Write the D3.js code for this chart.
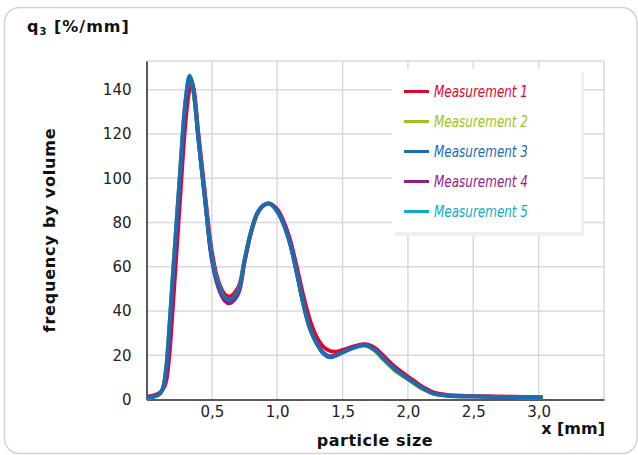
<!DOCTYPE html>
<html>
<head>
<meta charset="utf-8">
<script src="https://cdn.jsdelivr.net/npm/d3@7"></script>
<style>
  body { margin: 0; background: #fff; }
  svg { display: block; font-family: "DejaVu Sans", Verdana, sans-serif; }
</style>
</head>
<body>
<div id="chart"></div>
<script>
// particle size (mm), shared by all measurements
const sizes = [0, 0.05, 0.1, 0.125, 0.15, 0.175, 0.2, 0.25, 0.3, 0.33, 0.35, 0.4, 0.45, 0.5, 0.55, 0.6, 0.635,
  0.7, 0.75, 0.8, 0.85, 0.9, 0.945, 1.0, 1.05, 1.1, 1.15, 1.2, 1.25, 1.3, 1.35, 1.4, 1.45, 1.5, 1.55, 1.6, 1.675,
  1.75, 1.8, 1.85, 1.9, 2.0, 2.05, 2.12, 2.2, 2.3, 2.5, 2.8, 3.03];

// q3 values (%/mm)
const measurement1 = [1.2, 1.8, 3, 4.5, 8, 20, 40, 84, 126, 140, 142.5, 119, 92, 67, 53.5, 47.5, 46.5,
  50.5, 63, 75.5, 84, 87.8, 88.3, 86, 80.5, 72, 60, 47, 36, 28.5, 24, 22, 21.6, 22.4, 23.4, 24.3, 25,
  23.2, 20.5, 17.6, 14.8, 10.4, 8.3, 5.5, 3.1, 2.1, 1.6, 1.3, 1.0];
const measurement2 = [0.8, 1.2, 2.5, 5, 14, 33, 55, 97, 135.5, 145.5, 142.5, 116, 89, 64, 52, 46, 45,
  49, 63, 76, 84.5, 88, 88.4, 85, 79, 70, 57, 43, 32, 25.5, 21, 19.4, 20, 21.3, 22.6, 23.6, 24.3,
  21.8, 18.7, 15.8, 13.0, 9.0, 7.0, 4.5, 2.5, 1.7, 1.4, 1.1, 0.9];
const measurement3 = [0.8, 1.2, 2.5, 5, 14, 33, 55, 97, 136, 146, 143, 116, 89, 64, 52, 46, 45,
  49, 63, 76, 84.5, 88, 88.5, 85, 79, 70, 57, 43, 32, 25.5, 21, 19.1, 19.8, 21.2, 22.6, 23.7, 24.5,
  22.2, 19.2, 16.3, 13.6, 9.4, 7.4, 4.8, 2.6, 1.7, 1.4, 1.1, 0.9];
const measurement4 = [0.9, 1.4, 2.7, 4.8, 12, 29, 51, 93, 133, 145, 143, 116.5, 89, 63, 50.5, 44.5, 43.5,
  47.5, 62, 75.5, 84.5, 88, 88.6, 85.5, 79.5, 70.5, 57.5, 43.5, 32.5, 25.8, 21.3, 19.5, 20.1, 21.4, 22.8, 23.8, 24.6,
  22.4, 19.4, 16.5, 13.8, 9.5, 7.5, 4.9, 2.7, 1.8, 1.4, 1.1, 0.9];
const measurement5 = [0.8, 1.2, 2.5, 5, 14, 33, 55, 97, 136, 146.5, 143, 116, 89, 64, 51.5, 45.5, 44.5,
  48.5, 63, 76, 84.5, 88, 88.5, 85, 79, 70, 57, 43, 32, 25.5, 21, 19.2, 19.9, 21.2, 22.6, 23.7, 24.5,
  22.2, 19.2, 16.3, 13.6, 9.4, 7.4, 4.8, 2.6, 1.7, 1.4, 1.1, 0.9];

const seriesNames = ["Measurement 1", "Measurement 2", "Measurement 3", "Measurement 4", "Measurement 5"];
const seriesValues = [measurement1, measurement2, measurement3, measurement4, measurement5];
const seriesColors = ["#e3032d", "#9dc11f", "#1a6db3", "#951c82", "#12a9c9"];
const drawOrder = [0, 4, 1, 3, 2];   // blue ends up on top, as in the picture

const xTicks = [0.5, 1.0, 1.5, 2.0, 2.5, 3.0];
const yTicks = [0, 20, 40, 60, 80, 100, 120, 140];

const width = 638, height = 455;
const plot = { left: 146.5, right: 604, top: 61, bottom: 399.5 };

const svg = d3.select("#chart").append("svg")
  .attr("width", width)
  .attr("height", height);

// card
svg.append("rect")
  .attr("x", 4.5).attr("y", 7.5)
  .attr("width", 632.5).attr("height", 446)
  .attr("rx", 15)
  .attr("fill", "#fff")
  .attr("stroke", "#d3d3d3")
  .attr("stroke-width", 1.5);

const x = d3.scaleLinear().domain([0, 3.5]).range([plot.left, plot.right]);
const y = d3.scaleLinear().domain([0, 153]).range([plot.bottom, plot.top]);

// grid
const grid = svg.append("g").attr("stroke", "#d9d9d9").attr("stroke-width", 1.5);
grid.selectAll("line.v")
  .data(xTicks.concat([3.5]))
  .join("line")
  .attr("x1", d => x(d)).attr("x2", d => x(d))
  .attr("y1", plot.top).attr("y2", plot.bottom);
grid.selectAll("line.h")
  .data(yTicks.slice(1).concat([153]))
  .join("line")
  .attr("x1", plot.left).attr("x2", plot.right)
  .attr("y1", d => y(d)).attr("y2", d => y(d));

// axes
const xAxis = svg.append("g")
  .attr("transform", `translate(0,${plot.bottom})`)
  .call(d3.axisBottom(x).tickValues(xTicks).tickSize(0).tickPadding(7)
    .tickFormat(d => d3.format(".1f")(d).replace(".", ",")));
xAxis.select(".domain").attr("stroke", "#222").attr("stroke-width", 1.5);
xAxis.selectAll("text").attr("font-size", 15).attr("fill", "#222")
  .attr("font-family", "DejaVu Sans, sans-serif");

const yAxis = svg.append("g")
  .attr("transform", `translate(${plot.left},0)`)
  .call(d3.axisLeft(y).tickValues(yTicks).tickSize(0).tickPadding(15));
yAxis.select(".domain").attr("stroke", "#222").attr("stroke-width", 1.5);
yAxis.selectAll("text").attr("font-size", 15).attr("fill", "#222")
  .attr("font-family", "DejaVu Sans, sans-serif");

// curves
const line = d3.line()
  .x((d, i) => x(sizes[i]))
  .y(d => y(d))
  .curve(d3.curveCatmullRom.alpha(0.5));

svg.append("g")
  .attr("fill", "none")
  .attr("stroke-width", 3.8)
  .attr("stroke-linejoin", "round")
  .selectAll("path")
  .data(drawOrder)
  .join("path")
  .attr("stroke", i => seriesColors[i])
  .attr("d", i => line(seriesValues[i]));

// legend
const lg = svg.append("g");
lg.append("rect")
  .attr("x", 395).attr("y", 72).attr("width", 189).attr("height", 164)
  .attr("fill", "#f0f0f0");
lg.append("rect")
  .attr("x", 392).attr("y", 69).attr("width", 189).attr("height", 163)
  .attr("fill", "#fff");
const items = lg.selectAll("g.item")
  .data(seriesNames)
  .join("g")
  .attr("class", "item")
  .attr("transform", (d, i) => `translate(0,${91.5 + i * 30})`);
items.append("line")
  .attr("x1", 404).attr("x2", 429)
  .attr("stroke", (d, i) => seriesColors[i])
  .attr("stroke-width", 3);
items.append("text")
  .attr("x", 434).attr("y", 5.5)
  .attr("font-family", "'Liberation Sans Narrow', 'DejaVu Sans Condensed', 'Roboto', sans-serif")
  .attr("font-style", "italic")
  .attr("font-size", 15.5)
  .attr("textLength", 94)
  .attr("lengthAdjust", "spacingAndGlyphs")
  .attr("fill", (d, i) => seriesColors[i])
  .text(d => d);

// titles
const title = svg.append("text")
  .attr("x", 27).attr("y", 32)
  .attr("font-size", 16).attr("font-weight", "bold")
  .attr("letter-spacing", 1)
  .attr("fill", "#111");
title.append("tspan").text("q");
title.append("tspan").attr("font-size", 10).attr("dy", 3).text("3");
title.append("tspan").attr("dy", -3).text(" [%/mm]");

svg.append("text")
  .attr("transform", `translate(55,230) rotate(-90)`)
  .attr("text-anchor", "middle")
  .attr("font-size", 16).attr("font-weight", "bold")
  .attr("letter-spacing", 0.8)
  .attr("fill", "#111")
  .text("frequency by volume");

svg.append("text")
  .attr("x", 375).attr("y", 446)
  .attr("text-anchor", "middle")
  .attr("font-size", 16).attr("font-weight", "bold")
  .attr("letter-spacing", 0.5)
  .attr("fill", "#111")
  .text("particle size");

svg.append("text")
  .attr("x", 605).attr("y", 434)
  .attr("text-anchor", "end")
  .attr("font-size", 16).attr("font-weight", "bold")
  .attr("fill", "#111")
  .text("x [mm]");
</script>
</body>
</html>
